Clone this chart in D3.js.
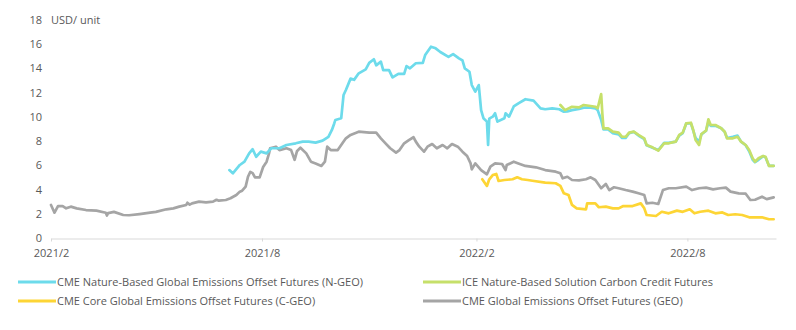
<!DOCTYPE html>
<html><head><meta charset="utf-8">
<script src="https://cdn.jsdelivr.net/npm/d3@7"></script>
<style>body{margin:0;background:#fff}svg{display:block}text{font-family:"Open Sans","Noto Sans",sans-serif;fill:#595959}</style>
</head><body><svg id="c" width="796" height="330"></svg>
<script>
const yTicks = [0,2,4,6,8,10,12,14,16,18];
const xTickLabels = ["2021/2","2021/8","2022/2","2022/8"];
const yUnit = "USD/ unit";
const seriesNames = ["CME Nature-Based Global Emissions Offset Futures (N-GEO)","ICE Nature-Based Solution Carbon Credit Futures","CME Core Global Emissions Offset Futures (C-GEO)","CME Global Emissions Offset Futures (GEO)"];

const geoDates = ["2021-02-01","2021-02-04","2021-02-07","2021-02-11","2021-02-14","2021-02-18","2021-02-23","2021-03-03","2021-03-12","2021-03-20","2021-03-21","2021-03-22","2021-03-27","2021-04-04","2021-04-09","2021-04-18","2021-04-27","2021-05-02","2021-05-11","2021-05-17","2021-05-22","2021-05-28","2021-05-29","2021-05-31","2021-06-02","2021-06-08","2021-06-14","2021-06-20","2021-06-23","2021-06-25","2021-07-01","2021-07-05","2021-07-10","2021-07-13","2021-07-15","2021-07-18","2021-07-20","2021-07-22","2021-07-24","2021-07-26","2021-07-30","2021-08-02","2021-08-05","2021-08-07","2021-08-08","2021-08-13","2021-08-16","2021-08-22","2021-08-26","2021-08-29","2021-08-31","2021-09-03","2021-09-08","2021-09-12","2021-09-16","2021-09-21","2021-09-24","2021-09-26","2021-09-29","2021-10-05","2021-10-09","2021-10-12","2021-10-16","2021-10-23","2021-11-01","2021-11-07","2021-11-11","2021-11-15","2021-11-19","2021-11-24","2021-11-27","2021-12-01","2021-12-05","2021-12-09","2021-12-11","2021-12-14","2021-12-18","2021-12-21","2021-12-25","2021-12-29","2022-01-03","2022-01-07","2022-01-11","2022-01-16","2022-01-20","2022-01-24","2022-01-27","2022-01-28","2022-01-31","2022-02-05","2022-02-10","2022-02-13","2022-02-17","2022-02-23","2022-02-26","2022-02-27","2022-03-05","2022-03-09","2022-03-15","2022-03-24","2022-04-01","2022-04-10","2022-04-14","2022-04-16","2022-04-20","2022-04-24","2022-04-30","2022-05-06","2022-05-10","2022-05-14","2022-05-19","2022-05-23","2022-05-26","2022-05-30","2022-06-03","2022-06-09","2022-06-15","2022-06-20","2022-06-25","2022-06-27","2022-07-02","2022-07-07","2022-07-11","2022-07-16","2022-07-22","2022-07-31","2022-08-05","2022-08-11","2022-08-17","2022-08-23","2022-08-29","2022-09-03","2022-09-07","2022-09-14","2022-09-20","2022-09-24","2022-09-28","2022-10-04","2022-10-08","2022-10-14"];
const geoValues = [2.77,2.13,2.68,2.68,2.49,2.63,2.49,2.35,2.30,2.13,1.90,2.10,2.20,1.94,1.92,2.02,2.13,2.20,2.41,2.49,2.63,2.77,2.95,2.80,2.90,3.04,2.99,3.04,3.20,3.12,3.18,3.32,3.59,3.87,3.95,4.28,5.10,5.50,5.40,5.05,5.05,5.90,6.34,7.00,7.45,7.58,7.30,7.45,7.30,6.50,7.20,7.50,7.03,6.34,6.20,5.99,6.34,7.58,7.30,7.30,7.86,8.27,8.55,8.82,8.74,8.74,8.27,7.86,7.45,7.09,7.30,7.86,8.13,8.36,8.00,7.58,7.17,7.58,7.80,7.45,7.72,7.45,7.80,7.58,7.17,6.81,6.20,5.71,6.20,5.65,5.30,5.93,6.20,6.15,5.65,6.07,6.34,6.20,5.99,5.88,5.65,5.52,5.38,4.97,5.10,4.83,4.80,4.89,5.05,4.83,4.15,4.50,4.00,4.23,4.15,4.00,3.87,3.73,3.59,2.90,2.95,2.85,4.00,4.15,4.15,4.28,4.00,4.15,4.20,4.06,4.15,4.20,3.87,3.73,3.70,3.18,3.20,3.45,3.25,3.40];

const ngeoDates = ["2021-07-04","2021-07-07","2021-07-13","2021-07-17","2021-07-21","2021-07-24","2021-07-27","2021-07-31","2021-08-05","2021-08-09","2021-08-16","2021-08-22","2021-08-30","2021-09-05","2021-09-10","2021-09-16","2021-09-22","2021-09-27","2021-09-30","2021-10-02","2021-10-03","2021-10-08","2021-10-10","2021-10-12","2021-10-16","2021-10-19","2021-10-23","2021-10-29","2021-11-01","2021-11-05","2021-11-07","2021-11-11","2021-11-13","2021-11-18","2021-11-21","2021-11-26","2021-12-01","2021-12-03","2021-12-06","2021-12-11","2021-12-17","2021-12-19","2021-12-24","2021-12-28","2022-01-01","2022-01-08","2022-01-12","2022-01-17","2022-01-20","2022-01-22","2022-01-26","2022-01-28","2022-01-31","2022-02-03","2022-02-05","2022-02-07","2022-02-10","2022-02-11","2022-02-12","2022-02-15","2022-02-17","2022-02-19","2022-02-25","2022-02-26","2022-03-01","2022-03-05","2022-03-09","2022-03-15","2022-03-22","2022-03-28","2022-04-01","2022-04-07","2022-04-13","2022-04-17","2022-04-20","2022-04-24","2022-04-30","2022-05-04","2022-05-10","2022-05-14","2022-05-16","2022-05-19","2022-05-21","2022-05-25","2022-05-29","2022-06-03","2022-06-06","2022-06-09","2022-06-12","2022-06-16","2022-06-20","2022-06-25","2022-06-27","2022-07-02","2022-07-07","2022-07-12","2022-07-16","2022-07-22","2022-07-25","2022-07-28","2022-07-31","2022-08-04","2022-08-06","2022-08-08","2022-08-11","2022-08-13","2022-08-17","2022-08-19","2022-08-21","2022-08-25","2022-08-30","2022-09-02","2022-09-04","2022-09-09","2022-09-13","2022-09-16","2022-09-20","2022-09-23","2022-09-26","2022-09-28","2022-10-01","2022-10-05","2022-10-07","2022-10-10","2022-10-14"];
const ngeoValues = [5.65,5.38,6.07,6.34,7.03,7.37,6.75,7.17,7.03,7.45,7.45,7.72,7.86,8.00,8.00,7.92,8.08,8.40,8.96,9.50,9.79,9.93,11.85,12.26,13.20,13.10,13.64,13.97,14.50,14.80,14.30,14.60,13.90,13.90,13.30,13.60,13.60,14.24,14.05,14.47,14.50,15.15,15.84,15.70,15.40,15.00,15.23,14.88,14.70,14.05,13.77,12.67,12.12,12.67,10.60,9.93,9.65,7.72,9.90,10.06,10.34,9.65,9.93,10.34,10.06,10.90,11.16,11.50,11.38,10.75,10.67,10.75,10.67,10.47,10.50,10.60,10.70,10.80,10.80,10.75,10.60,9.80,9.00,9.00,8.70,8.60,8.30,8.30,8.70,8.80,8.50,8.20,7.70,7.50,7.30,7.90,7.90,8.00,8.50,8.70,9.50,9.50,8.90,8.30,8.00,8.60,8.90,9.60,9.30,9.30,9.10,8.80,8.30,8.40,8.50,8.00,7.70,7.20,6.50,6.30,6.50,6.80,6.70,6.00,6.00];

const iceDates = ["2022-04-14","2022-04-18","2022-04-24","2022-04-30","2022-05-04","2022-05-10","2022-05-14","2022-05-16","2022-05-19","2022-05-20","2022-05-21","2022-05-25","2022-05-29","2022-06-03","2022-06-06","2022-06-09","2022-06-12","2022-06-16","2022-06-20","2022-06-25","2022-06-27","2022-07-02","2022-07-07","2022-07-12","2022-07-16","2022-07-22","2022-07-25","2022-07-28","2022-07-31","2022-08-04","2022-08-06","2022-08-08","2022-08-11","2022-08-13","2022-08-17","2022-08-19","2022-08-21","2022-08-25","2022-08-30","2022-09-02","2022-09-04","2022-09-09","2022-09-13","2022-09-16","2022-09-20","2022-09-23","2022-09-26","2022-09-28","2022-10-01","2022-10-05","2022-10-07","2022-10-10","2022-10-14"];
const iceValues = [11.02,10.60,10.88,10.83,11.02,10.94,10.88,10.75,11.93,10.34,9.10,9.10,8.82,8.74,8.40,8.40,8.74,8.82,8.55,8.27,7.72,7.53,7.25,7.86,7.86,8.00,8.55,8.74,9.51,9.56,8.96,8.13,7.72,8.63,8.90,9.84,9.37,9.37,9.10,8.82,8.27,8.27,8.40,8.00,7.72,7.30,6.62,6.34,6.62,6.81,6.75,5.99,5.99];

const cgeoDates = ["2022-02-06","2022-02-10","2022-02-12","2022-02-15","2022-02-18","2022-02-20","2022-02-25","2022-03-04","2022-03-08","2022-03-12","2022-03-17","2022-03-21","2022-04-01","2022-04-10","2022-04-14","2022-04-17","2022-04-21","2022-04-24","2022-04-28","2022-05-06","2022-05-07","2022-05-14","2022-05-17","2022-05-23","2022-05-29","2022-06-03","2022-06-07","2022-06-15","2022-06-22","2022-06-25","2022-06-27","2022-07-05","2022-07-10","2022-07-16","2022-07-23","2022-07-28","2022-08-03","2022-08-07","2022-08-12","2022-08-19","2022-08-25","2022-08-31","2022-09-05","2022-09-11","2022-09-17","2022-09-23","2022-10-04","2022-10-10","2022-10-14"];
const cgeoValues = [4.89,4.34,4.89,5.24,5.33,4.75,4.83,4.89,5.05,4.89,4.83,4.77,4.61,4.56,4.34,3.73,3.59,2.77,2.49,2.41,2.90,2.90,2.58,2.63,2.49,2.49,2.68,2.68,2.90,2.49,1.94,1.86,2.21,2.08,2.30,2.20,2.41,2.08,2.21,2.30,2.08,2.15,1.94,2.00,1.94,1.75,1.75,1.59,1.59];

const colors = ["#6ddbeb","#c6e06a","#fdd535","#a5a5a5"];

const parse = d3.timeParse("%Y-%m-%d");
const svg = d3.select("#c");
const x = d3.scaleTime().domain([parse("2021-02-01"), parse("2022-10-16")]).range([51, 776]);
const y = d3.scaleLinear().domain([0, 18]).range([238.5, 20.5]);

// y labels
svg.append("g").selectAll("text").data(yTicks).join("text")
  .attr("x", 42).attr("y", d => y(d)).attr("dy", "0.32em")
  .attr("text-anchor", "end").attr("font-size", 11).text(d => d);
svg.append("text").attr("x", 51).attr("y", y(18)).attr("dy", "0.35em").attr("font-size", 11).text(yUnit);

// x axis
const xTickDates = xTickLabels.map(s => d3.timeParse("%Y/%m")(s));
const xAxis = d3.axisBottom(x).tickValues(xTickDates).tickFormat((d,i) => xTickLabels[i]).tickSizeInner(3).tickSizeOuter(0).tickPadding(8);
const gx = svg.append("g").attr("transform", `translate(0,${y(0)})`).call(xAxis);
gx.select(".domain").attr("stroke", "#d9d9d9");
gx.selectAll(".tick line").attr("stroke", "#d9d9d9");
gx.selectAll(".tick text").attr("font-size", 11).attr("fill", "#595959").style("font-family", '"Open Sans","Noto Sans",sans-serif');

const line = d3.line().x(d => x(d[0])).y(d => y(d[1]));
function series(dates, vals){ return dates.map((s,i) => [parse(s), vals[i]]); }
const data = [series(ngeoDates, ngeoValues), series(iceDates, iceValues), series(cgeoDates, cgeoValues), series(geoDates, geoValues)];
const drawOrder = [3, 2, 0, 1];
svg.append("g").selectAll("path").data(drawOrder).join("path")
  .attr("d", i => line(data[i])).attr("fill", "none")
  .attr("stroke", i => colors[i]).attr("stroke-width", 2.7)
  .attr("stroke-linejoin", "round").attr("stroke-linecap", "round");

// legend
const legPos = [[18,282],[423,282],[18,301],[423,301]];
const lg = svg.append("g").selectAll("g").data(seriesNames).join("g")
  .attr("transform", (d,i) => `translate(${legPos[i][0]},${legPos[i][1]})`);
lg.append("line").attr("x1", 0).attr("x2", 38).attr("y1", 0).attr("y2", 0)
  .attr("stroke", (d,i) => colors[i]).attr("stroke-width", 3);
lg.append("text").attr("x", 39).attr("y", 0).attr("dy", "0.35em").attr("font-size", 11).text(d => d);
</script></body></html>
